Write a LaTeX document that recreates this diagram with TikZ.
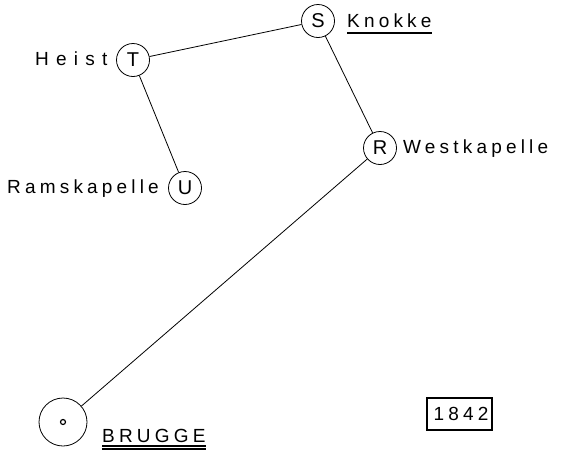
\documentclass[tikz,border=0pt]{standalone}
\usepackage{fontspec}
\setmainfont{Liberation Sans}
\newfontfamily\stencilfont[LetterSpace=22]{Liberation Sans}
\newfontfamily\breedfont[LetterSpace=38]{Liberation Sans}
\usetikzlibrary{positioning}

\tikzset{
  halte/.style={draw, circle, minimum size=33pt, inner sep=0pt, line width=0.8pt,
    font=\fontsize{20}{24}\selectfont},
  plaats/.style={inner sep=0pt, anchor=base west, font=\stencilfont\fontsize{19}{22}\selectfont},
  spoor/.style={line width=0.8pt},
  onderlijn/.style={line width=1.1pt},
}

\begin{document}
\begin{tikzpicture}[x=1pt, y=-1pt]
  \useasboundingbox (0,0) rectangle (561,456);

  % stations
  \node[halte] (S) at (318,21) {S};
  \node[halte] (T) at (133,60) {T};
  \node[halte] (U) at (185,188) {U};
  \node[halte] (R) at (380,148) {R};
  \node[halte, minimum size=48pt] (brugge) at (63,422) {};
  \node[draw, circle, inner sep=0pt, minimum size=5pt, line width=1.2pt] (brugge-kern) at (brugge.center) {};

  % namen
  \node[plaats] (knokke) at (347,27) {Knokke};
  \node[plaats, font=\breedfont\fontsize{19}{22}\selectfont] (heist) at (35,65) {Heist};
  \node[plaats] (ramskapelle) at (7,193) {Ramskapelle};
  \node[plaats] (westkapelle) at (403,153) {Westkapelle};
  \node[plaats] (bruggenaam) at (102,442) {BRUGGE};
  \node[draw, line width=2pt, minimum width=65pt, minimum height=32pt, inner sep=0pt,
    font=\stencilfont\fontsize{19}{22}\selectfont] (jaar) at (459,414) {\hspace*{4pt}1842};

  % lijnen
  \draw[spoor] (T) -- (S);
  \draw[spoor] (T) -- (U);
  \draw[spoor] (S) -- (R);
  \draw[spoor] (R) -- (brugge);

  % onderstrepingen
  \draw[onderlijn, line width=1.6pt] ([yshift=-6pt]knokke.base west) -- ([yshift=-6pt]knokke.base east);
  \draw[onderlijn] ([yshift=-4pt]bruggenaam.base west) -- ([yshift=-4pt]bruggenaam.base east);
  \draw[onderlijn] ([yshift=-7pt]bruggenaam.base west) -- ([yshift=-7pt]bruggenaam.base east);
\end{tikzpicture}
\end{document}
